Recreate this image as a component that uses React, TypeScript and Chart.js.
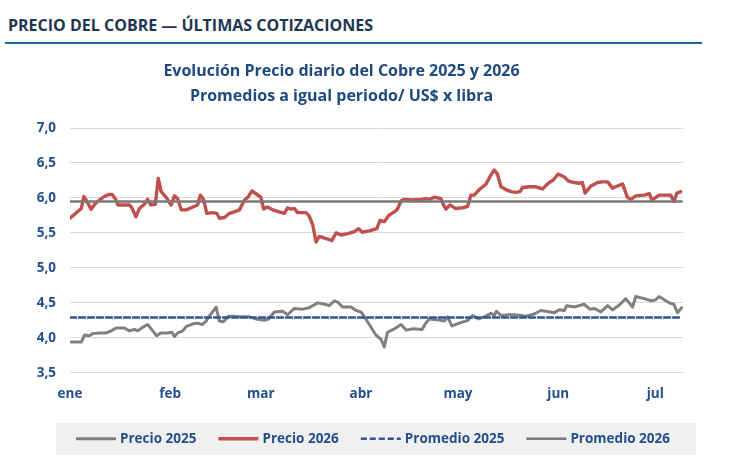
import { useEffect, useRef } from "react";
import { Chart, registerables } from "chart.js";

Chart.register(...registerables);

// Eje X: día del año (0 = 1 de enero) y rótulos de cada mes
const MESES = ["ene", "feb", "mar", "abr", "may", "jun", "jul"];
const INICIO_MES = [0, 31, 59, 90, 120, 151, 181];
const DIA_FINAL = 189.6;

// Eje Y: US$ por libra
const Y_MIN = 3.5;
const Y_MAX = 7.0;
const Y_PASO = 0.5;

// Precio diario 2026
const DIAS_2026 = [
  0, 3.5, 4.3, 5, 6.5, 8, 10, 11, 12, 13, 14, 14.8, 16, 18.4, 19, 20.4, 21.5, 23, 24, 25,
  26.4, 27.3, 28.2, 29.7, 31.3, 32.3, 33.3, 34.4, 36, 38, 39.5, 40.3, 41.3, 42.3, 44.2, 45.4,
  46.2, 47.8, 49.3, 50.8, 52.4, 54, 55, 56.3, 57.5, 59, 59.9, 61, 62.7, 64.7, 66.3, 67.3,
  68.3, 69.4, 70.4, 73, 74, 75.1, 76.1, 77.1, 79.2, 81, 82.3, 83.8, 85.9, 88, 89.3, 90.3,
  92.6, 94.9, 95.9, 97.2, 98.6, 100.3, 101.3, 102.4, 103.4, 106, 108.5, 110.1, 111.1, 112.7,
  114.7, 115.5, 116.3, 117.5, 119.2, 121.4, 123, 124, 125, 126.6, 128.7, 130.2, 131.2, 132.2,
  133.3, 134.8, 136.4, 137.9, 139.2, 140, 142, 144.1, 146.2, 147.7, 149.5, 151, 152.9, 154.2,
  155.9, 157.5, 158.5, 159.3, 161.1, 163.2, 164.7, 166.3, 167.8, 169.3, 170.9, 172.4, 173.5,
  175, 177.6, 179.2, 180, 182.2, 184.3, 185.8, 186.8, 187.7, 188.9,
];
const PRECIO_2026 = [
  5.71, 5.85, 6.02, 5.97, 5.84, 5.93, 6.0, 6.03, 6.05, 6.05, 5.99, 5.9, 5.9, 5.9, 5.87, 5.73,
  5.85, 5.91, 5.98, 5.9, 5.91, 6.28, 6.09, 6.01, 5.9, 6.03, 5.99, 5.83, 5.83, 5.87, 5.9, 6.04,
  5.98, 5.78, 5.79, 5.78, 5.71, 5.72, 5.78, 5.8, 5.83, 5.97, 6.01, 6.1, 6.06, 6.01, 5.84, 5.87,
  5.83, 5.8, 5.78, 5.86, 5.84, 5.85, 5.79, 5.79, 5.74, 5.61, 5.37, 5.45, 5.42, 5.39, 5.5,
  5.47, 5.49, 5.52, 5.56, 5.51, 5.53, 5.56, 5.68, 5.66, 5.75, 5.8, 5.84, 5.96, 5.98, 5.97,
  5.98, 5.99, 5.98, 6.01, 5.99, 5.9, 5.84, 5.9, 5.85, 5.86, 5.88, 6.04, 6.04, 6.12, 6.2, 6.33,
  6.4, 6.34, 6.16, 6.12, 6.09, 6.08, 6.09, 6.15, 6.16, 6.16, 6.13, 6.2, 6.26, 6.34, 6.3, 6.24,
  6.22, 6.21, 6.22, 6.07, 6.17, 6.22, 6.23, 6.23, 6.14, 6.17, 6.2, 6.01, 5.98, 6.03, 6.04,
  6.06, 5.97, 6.04, 6.04, 6.04, 5.95, 6.07, 6.09,
];

// Precio diario 2025 (mismo período)
const DIAS_2025 = [
  0.4, 3.5, 4.5, 6, 7, 9.1, 11.2, 12.7, 14.3, 16.8, 18.4, 19.9, 21, 22.5, 24, 25.6, 26.8,
  28.1, 30.2, 31.5, 32.3, 33.3, 34.9, 35.9, 38, 39.5, 40.9, 42.1, 43.1, 45.2, 46.2, 47.4,
  49.1, 50.5, 52.4, 55.5, 57.5, 60, 61.4, 63.2, 65.8, 67.3, 69.4, 72, 74, 76.6, 78.7, 80.2,
  81.8, 82.8, 84.3, 86.9, 88.5, 90, 91.5, 93.1, 94.6, 96.2, 97.2, 98.2, 100, 102.4, 104, 106,
  108.9, 109.9, 111.1, 113.2, 115.8, 116.8, 118.1, 120.4, 123, 124.5, 126.4, 128.1, 130.2,
  131.2, 131.9, 133.3, 135.8, 137.4, 139.5, 141, 143.6, 145.6, 147.2, 149.8, 151.3, 152.9,
  153.6, 156, 157.5, 159, 160.8, 162.2, 164.2, 166.3, 167.8, 169.9, 171.9, 174, 175, 177.6,
  179.7, 181, 182.2, 184.3, 185.8, 186.8, 187.9, 189.2,
];
const PRECIO_2025 = [
  3.94, 3.94, 4.04, 4.03, 4.06, 4.07, 4.07, 4.1, 4.14, 4.14, 4.1, 4.12, 4.1, 4.15, 4.19,
  4.1, 4.03, 4.07, 4.07, 4.08, 4.02, 4.07, 4.1, 4.16, 4.2, 4.21, 4.19, 4.24, 4.31, 4.44,
  4.24, 4.23, 4.31, 4.31, 4.3, 4.3, 4.27, 4.25, 4.27, 4.37, 4.38, 4.33, 4.42, 4.41, 4.43,
  4.5, 4.48, 4.46, 4.53, 4.51, 4.44, 4.44, 4.39, 4.37, 4.27, 4.15, 4.04, 3.98, 3.87, 4.08,
  4.12, 4.19, 4.11, 4.13, 4.12, 4.2, 4.27, 4.26, 4.24, 4.3, 4.17, 4.21, 4.25, 4.32, 4.27,
  4.3, 4.35, 4.32, 4.38, 4.32, 4.33, 4.33, 4.32, 4.31, 4.34, 4.39, 4.38, 4.36, 4.4, 4.39,
  4.46, 4.44, 4.46, 4.48, 4.41, 4.42, 4.37, 4.46, 4.4, 4.47, 4.56, 4.44, 4.59, 4.56, 4.53,
  4.54, 4.59, 4.53, 4.49, 4.48, 4.36, 4.43,
];

// Promedios a igual período
const PROMEDIO_2025 = 4.29;
const PROMEDIO_2026 = 5.95;
const PERIODO = [0, 189.2];

const FUENTE = "'Open Sans', Lato, sans-serif";
const AZUL_TEXTO = "#23508c";

const aPuntos = (dias: number[], valores: number[]) =>
  dias.map((d, i) => ({ x: d, y: valores[i] }));

const lineaPromedio = (valor: number) => PERIODO.map((d) => ({ x: d, y: valor }));

// Leyenda dibujada sobre un recuadro gris bajo el gráfico
const leyendaInferior = {
  id: "leyendaInferior",
  afterDraw(chart: any) {
    const { ctx, chartArea } = chart;
    const left = chartArea.left - 14;
    const right = chartArea.right + 13;
    const top = chartArea.bottom + 50;
    const alto = 32;
    ctx.save();
    ctx.fillStyle = "#f0f0f0";
    ctx.fillRect(left, top, right - left, alto);

    ctx.font = `bold 13.5px ${FUENTE}`;
    const muestra = 40;
    const sepTexto = 4;
    const sepItem = 22;
    const items = chart.data.datasets.map((ds: any) => ({
      ds,
      ancho: ctx.measureText(ds.label).width,
    }));
    const total =
      items.reduce((s: number, it: any) => s + muestra + sepTexto + it.ancho, 0) +
      sepItem * (items.length - 1);
    let x = (left + right) / 2 - 3 - total / 2;
    const yc = top + alto / 2;
    items.forEach((it: any) => {
      const { ds } = it;
      ctx.beginPath();
      ctx.strokeStyle = ds.borderColor;
      ctx.lineWidth = ds.borderWidth;
      ctx.setLineDash(ds.borderDash || []);
      ctx.moveTo(x, yc);
      ctx.lineTo(x + muestra, yc);
      ctx.stroke();
      ctx.setLineDash([]);
      x += muestra + sepTexto;
      ctx.fillStyle = AZUL_TEXTO;
      ctx.textBaseline = "middle";
      ctx.textAlign = "left";
      ctx.fillText(ds.label, x, yc);
      x += it.ancho + sepItem;
    });
    ctx.restore();
  },
};

export default function App() {
  const canvasRef = useRef<HTMLCanvasElement | null>(null);

  useEffect(() => {
    if (!canvasRef.current) return;
    const chart = new Chart(canvasRef.current, {
      type: "line",
      data: {
        datasets: [
          {
            label: "Precio 2025",
            data: aPuntos(DIAS_2025, PRECIO_2025),
            borderColor: "#808080",
            borderWidth: 3,
            order: 2,
          },
          {
            label: "Precio 2026",
            data: aPuntos(DIAS_2026, PRECIO_2026),
            borderColor: "#c0504d",
            borderWidth: 3.4,
            order: 2,
          },
          {
            label: "Promedio 2025",
            data: lineaPromedio(PROMEDIO_2025),
            borderColor: "#2f5597",
            borderWidth: 2.5,
            borderDash: [6, 3],
            order: 1,
          },
          {
            label: "Promedio 2026",
            data: lineaPromedio(PROMEDIO_2026),
            borderColor: "#7a7a7a",
            borderWidth: 2.5,
            order: 1,
          },
        ] as any,
      },
      options: {
        animation: false,
        responsive: false,
        devicePixelRatio: 1,
        elements: {
          point: { radius: 0, hoverRadius: 0 },
          line: { tension: 0, borderJoinStyle: "round", borderCapStyle: "round", fill: false },
        },
        layout: { padding: { left: 0, right: 47, top: 0, bottom: 53 } },
        plugins: {
          legend: { display: false },
          tooltip: { enabled: false },
          title: {
            display: true,
            text: [
              "Evolución Precio diario del Cobre 2025 y 2026",
              "Promedios a igual periodo/ US$ x libra",
            ],
            color: "#1f4a7f",
            font: { family: FUENTE, size: 16, weight: "bold", lineHeight: 1.55 },
            padding: { top: 9, bottom: 19.4 },
          },
        },
        scales: {
          x: {
            type: "linear",
            min: 0,
            max: DIA_FINAL,
            grid: { display: false },
            border: { display: false },
            afterBuildTicks: (scale: any) => {
              scale.ticks = INICIO_MES.map((v) => ({ value: v }));
            },
            ticks: {
              autoSkip: false,
              maxRotation: 0,
              padding: 5,
              color: AZUL_TEXTO,
              font: { family: FUENTE, size: 13.5, weight: "bold" },
              callback: (v: any) => MESES[INICIO_MES.indexOf(Number(v))] ?? "",
            },
          },
          y: {
            min: Y_MIN,
            max: Y_MAX,
            grid: { color: "#d9d9d9", lineWidth: 1, drawTicks: false },
            border: { display: false },
            afterFit: (scale: any) => {
              scale.width = 70;
            },
            ticks: {
              stepSize: Y_PASO,
              padding: 14,
              color: AZUL_TEXTO,
              font: { family: FUENTE, size: 13.5, weight: "bold" },
              callback: (v: any) => Number(v).toFixed(1).replace(".", ","),
            },
          },
        },
      },
      plugins: [leyendaInferior],
    });
    return () => chart.destroy();
  }, []);

  return (
    <div style={{ position: "absolute", left: 0, top: 0, width: 730, height: 460, background: "#fff" }}>
      <div
        style={{
          position: "absolute",
          left: 8,
          top: 15,
          fontFamily: FUENTE,
          fontWeight: "bold",
          fontSize: 16,
          lineHeight: "20px",
          color: "#1c3652",
          whiteSpace: "nowrap",
        }}
      >
        PRECIO DEL COBRE — ÚLTIMAS COTIZACIONES
      </div>
      <div
        style={{
          position: "absolute",
          left: 5,
          top: 42,
          width: 697,
          height: 2,
          background: "#1f6aa5",
        }}
      />
      <canvas
        ref={canvasRef}
        width={730}
        height={410}
        style={{ position: "absolute", left: 0, top: 50, width: 730, height: 410 }}
      />
    </div>
  );
}
